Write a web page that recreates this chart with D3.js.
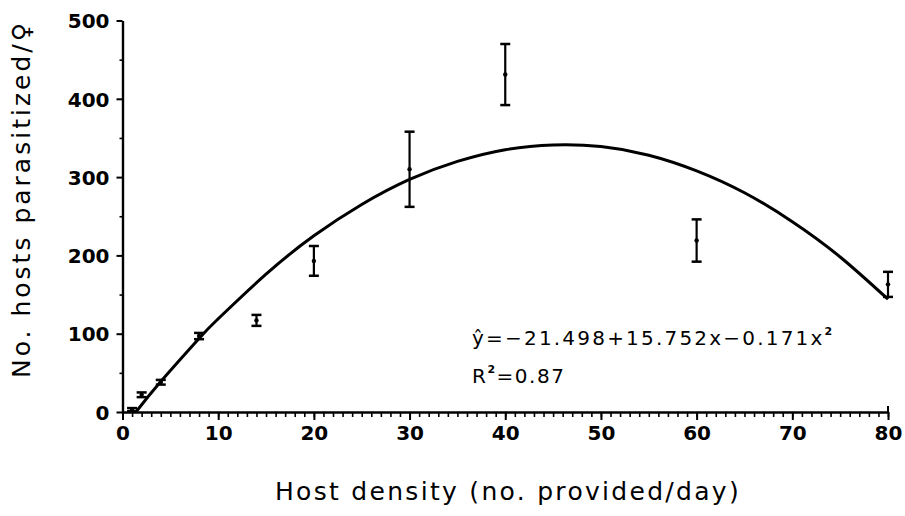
<!DOCTYPE html>
<html><head><meta charset="utf-8">
<script src="https://cdn.jsdelivr.net/npm/d3@7/dist/d3.min.js"></script>
<style>
body{margin:0;background:#fff;}
svg{display:block;}
</style></head>
<body>
<svg id="chart" width="905" height="516"></svg>
<script>
// Data
const hostDensity = [1, 2, 4, 8, 14, 20, 30, 40, 60, 80];
const meanParasitized = [3, 22, 38, 97, 117, 193, 310, 431, 219, 163];
const errorHalf = [2, 3, 3, 4, 7, 19, 48, 39, 27, 16];
// Fitted curve points
const curveX = [1.4, 4, 8, 10, 15, 20, 25, 30, 35, 40, 45, 50, 55, 60, 65, 70, 75, 80];
const curveY = [0, 39, 94, 119, 176, 225, 265, 297, 320, 335, 341, 339, 328, 308, 280, 243, 198, 144];
const xMajorTicks = [0, 10, 20, 30, 40, 50, 60, 70, 80];
const yMajorTicks = [0, 100, 200, 300, 400, 500];
const xTitle = "Host density (no. provided/day)";
const yTitle = "No. hosts parasitized/\u2640";

const svg = d3.select("#chart");
const x = d3.scaleLinear().domain([0, 80]).range([122.5, 888]);
const y = d3.scaleLinear().domain([0, 500]).range([412, 20.5]);
const font = "'DejaVu Sans', sans-serif";

// minor x ticks
const xMinor = d3.range(0, 81, 1);
svg.append("g").attr("transform", `translate(0,${y(0)})`)
  .call(d3.axisBottom(x).tickValues(xMinor).tickSize(5).tickSizeOuter(0).tickFormat(""))
  .call(g => g.select(".domain").remove())
  .call(g => g.selectAll("line").attr("stroke", "#000").attr("stroke-width", 1.6));

// major x axis
svg.append("g").attr("transform", `translate(0,${y(0)})`)
  .call(d3.axisBottom(x).tickValues(xMajorTicks).tickSize(8).tickSizeOuter(0).tickPadding(8))
  .call(g => g.select(".domain").attr("stroke", "#000").attr("stroke-width", 2.4))
  .call(g => g.selectAll("line").attr("stroke", "#000").attr("stroke-width", 2))
  .call(g => g.selectAll("text").attr("font-family", font).attr("font-weight", "bold")
      .attr("font-size", 20).attr("fill", "#000").attr("dy", "0.72em").attr("y", 14));

// end tick at 80 going up
svg.append("line").attr("x1", x(80)).attr("x2", x(80)).attr("y1", y(0)).attr("y2", y(0) - 6)
  .attr("stroke", "#000").attr("stroke-width", 2);

// minor y ticks
svg.append("g").attr("transform", `translate(${x(0)},0)`)
  .call(d3.axisLeft(y).tickValues(d3.range(50, 500, 100)).tickSize(3).tickSizeOuter(0).tickFormat(""))
  .call(g => g.select(".domain").remove())
  .call(g => g.selectAll("line").attr("stroke", "#000").attr("stroke-width", 1.6));

// major y axis
svg.append("g").attr("transform", `translate(${x(0)},0)`)
  .call(d3.axisLeft(y).tickValues(yMajorTicks).tickSize(6).tickSizeOuter(0).tickPadding(7))
  .call(g => g.select(".domain").attr("stroke", "#000").attr("stroke-width", 2.4))
  .call(g => g.selectAll("line").attr("stroke", "#000").attr("stroke-width", 2))
  .call(g => g.selectAll("text").attr("font-family", font).attr("font-weight", "bold")
      .attr("font-size", 20).attr("fill", "#000").attr("dy", "0.36em"));

// fitted curve
const line = d3.line().x((d, i) => x(curveX[i])).y(d => y(d)).curve(d3.curveNatural);
svg.append("path").datum(curveY).attr("d", line)
  .attr("fill", "none").attr("stroke", "#000").attr("stroke-width", 3);

// error bars
const pts = hostDensity.map((h, i) => ({h, m: meanParasitized[i], e: errorHalf[i]}));
const eb = svg.append("g").selectAll("g").data(pts).join("g");
eb.append("line").attr("x1", d => x(d.h)).attr("x2", d => x(d.h))
  .attr("y1", d => y(d.m + d.e)).attr("y2", d => y(d.m - d.e))
  .attr("stroke", "#000").attr("stroke-width", 2.2);
eb.append("line").attr("x1", d => x(d.h) - 5).attr("x2", d => x(d.h) + 5)
  .attr("y1", d => y(d.m + d.e)).attr("y2", d => y(d.m + d.e))
  .attr("stroke", "#000").attr("stroke-width", 2.5);
eb.append("line").attr("x1", d => x(d.h) - 5).attr("x2", d => x(d.h) + 5)
  .attr("y1", d => y(d.m - d.e)).attr("y2", d => y(d.m - d.e))
  .attr("stroke", "#000").attr("stroke-width", 2.5);
eb.append("circle").attr("cx", d => x(d.h)).attr("cy", d => y(d.m)).attr("r", 2.2).attr("fill", "#000");

// axis titles
svg.append("text").attr("x", 508).attr("y", 500).attr("text-anchor", "middle")
  .attr("font-family", font).attr("font-size", 25).attr("letter-spacing", 2.3).attr("fill", "#000").text(xTitle);
svg.append("text").attr("transform", "translate(30,199) rotate(-90)").attr("text-anchor", "middle")
  .attr("font-family", font).attr("font-size", 25).attr("letter-spacing", 3).attr("fill", "#000").text(yTitle);

// equation annotation
const eq = svg.append("text").attr("x", 472).attr("y", 345)
  .attr("font-family", font).attr("font-size", 20).attr("letter-spacing", 2.2).attr("fill", "#000");
eq.append("tspan").text("\u0177=\u221221.498+15.752x\u22120.171x");
eq.append("tspan").attr("dy", -10).attr("font-size", 11).attr("font-weight", "bold").text("2");
const r2 = svg.append("text").attr("x", 472).attr("y", 383)
  .attr("font-family", font).attr("font-size", 20).attr("letter-spacing", 1.5).attr("fill", "#000");
r2.append("tspan").text("R");
r2.append("tspan").attr("dy", -10).attr("font-size", 11).attr("font-weight", "bold").text("2");
r2.append("tspan").attr("dy", 10).text("=0.87");
</script>
</body></html>
